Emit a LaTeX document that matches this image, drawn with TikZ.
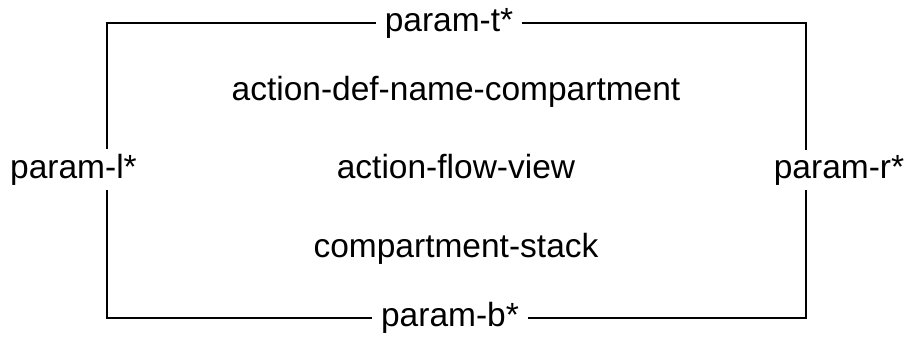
\documentclass[tikz,border=0pt]{standalone}
\usepackage{fontspec}
\setmainfont{Liberation Sans}
\usetikzlibrary{positioning,calc}

\tikzset{
  lbl/.style={font=\fontsize{33.5}{40}\selectfont, inner sep=0pt, anchor=base},
  param/.style={lbl, inner xsep=10pt, inner ysep=6pt},
  frame/.style={line width=2.5pt, line cap=rect}
}

\begin{document}
\begin{tikzpicture}[x=1pt,y=-1pt]
  \useasboundingbox (0,0) rectangle (908,337);
  \node[lbl] (defname) at (456,100) {action-def-name-compartment};
  \node[lbl] (flowview) at (456,178) {action-flow-view};
  \node[lbl] (stack) at (456,257) {compartment-stack};
  \node[param] (pt) at (449,31.5) {param-t*};
  \node[param] (pb) at (450,326.5) {param-b*};
  \node[param] (pl) at (73.5,178) {param-l*};
  \node[param] (pr) at (839,178) {param-r*};
  \coordinate (tl) at (107,23);
  \coordinate (tr) at (806,23);
  \coordinate (bl) at (107,318);
  \coordinate (br) at (806,318);
  \draw[frame] (pt.west |- tl) -- (tl) -- (tl |- pl.north);
  \draw[frame] (bl |- pl.south) -- (bl) -- (pb.west |- bl);
  \draw[frame] (pb.east |- br) -- (br) -- (br |- pr.south);
  \draw[frame] (tr |- pr.north) -- (tr) -- (pt.east |- tr);
\end{tikzpicture}
\end{document}
